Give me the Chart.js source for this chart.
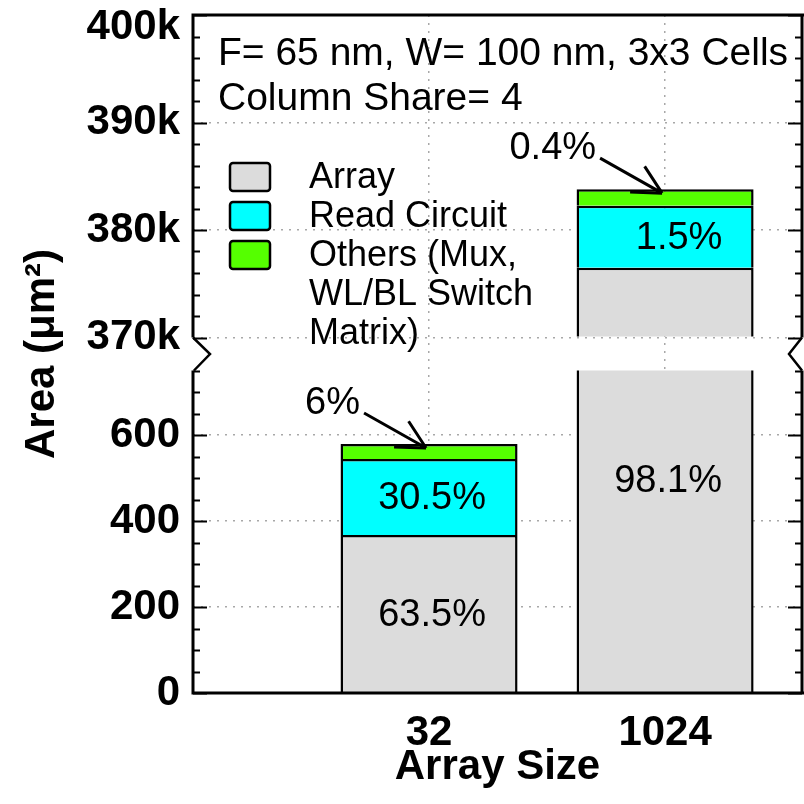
<!DOCTYPE html>
<html>
<head>
<meta charset="utf-8">
<script src="https://cdn.jsdelivr.net/npm/chart.js@4/dist/chart.umd.min.js"></script>
<style>
  html, body { margin: 0; padding: 0; background: #fff; }
  #wrap { width: 804px; height: 804px; }
</style>
</head>
<body>
<div id="wrap"><canvas id="c" width="804" height="804"></canvas></div>
<script>
// ---- data ----
const arraySizes = ['32', '1024'];
const slotPos = [1, 2];
const arrayArea = [367.7, 376500];
const readArea = [176.6, 5760];
const otherArea = [34.7, 1540];
const arrayPct = ['63.5%', '98.1%'];
const readPct = ['30.5%', '1.5%'];
const otherPct = ['6%', '0.4%'];
const yTickValues = [0, 200, 400, 600, 370000, 380000, 390000, 400000];
const yTickLabels = ['0', '200', '400', '600', '370k', '380k', '390k', '400k'];
const seriesNames = ['Array', 'Read Circuit', 'Others (Mux, WL/BL Switch Matrix)'];
const legendLines = [['Array'], ['Read Circuit'], ['Others (Mux,', 'WL/BL Switch', 'Matrix)']];
const noteLines = ['F= 65 nm, W= 100 nm, 3x3 Cells', 'Column Share= 4'];

// ---- styling ----
const FONT = '"Liberation Sans", Arial, Helvetica, sans-serif';
const COLORS = ['#dcdcdc', '#00ffff', '#55ff00'];
const GRID = '#a8a8a8';
const BREAK = { lowMax: 750, highMin: 370000, highMax: 400000, gap: 33 };

// Linear axis with a cut between the low range and the high range
class BrokenLinearScale extends Chart.LinearScale {
  segLen() { return (this.bottom - this.top - BREAK.gap) / 2; }
  getPixelForValue(v) {
    const s = this.segLen();
    if (v <= BREAK.lowMax) return this.bottom - (v / BREAK.lowMax) * s;
    if (v >= BREAK.highMin) return this.top + (BREAK.highMax - v) / (BREAK.highMax - BREAK.highMin) * s;
    return this.bottom - s - (v - BREAK.lowMax) / (BREAK.highMin - BREAK.lowMax) * BREAK.gap;
  }
  getValueForPixel(p) {
    const s = this.segLen();
    if (p >= this.bottom - s) return (this.bottom - p) / s * BREAK.lowMax;
    if (p <= this.top + s) return BREAK.highMax - (p - this.top) / s * (BREAK.highMax - BREAK.highMin);
    return BREAK.lowMax + (this.bottom - s - p) / BREAK.gap * (BREAK.highMin - BREAK.lowMax);
  }
}
BrokenLinearScale.id = 'brokenLinear';
BrokenLinearScale.defaults = Chart.LinearScale.defaults;
Chart.register(BrokenLinearScale);

// minor tick positions on the frame
const minorTicks = [];
for (let v = 50; v <= BREAK.lowMax; v += 50) if (v % 200) minorTicks.push(v);
for (let v = 372000; v < BREAK.highMax; v += 2000) if (v % 10000) minorTicks.push(v);

const insideShiftX = [[3, 3], [3, 14]];

function drawArrow(ctx, tx, ty) {
  const sx = tx - 62, sy = ty - 35;
  const ang = Math.atan2(ty - sy, tx - sx);
  ctx.beginPath();
  ctx.moveTo(sx, sy);
  ctx.lineTo(tx, ty);
  for (const d of [-0.48, 0.48]) {
    const a = ang + Math.PI + d;
    ctx.moveTo(tx, ty);
    ctx.lineTo(tx + 32 * Math.cos(a), ty + 32 * Math.sin(a));
  }
  ctx.stroke();
}

function fixedBox(size, key) {
  return s => {
    s[key] = size;
    s.paddingTop = 0; s.paddingBottom = 0; s.paddingLeft = 0; s.paddingRight = 0;
  };
}

const decor = {
  id: 'decor',
  beforeDraw(chart) {
    const ctx = chart.ctx;
    ctx.save();
    ctx.fillStyle = '#fff';
    ctx.fillRect(0, 0, chart.width, chart.height);
    ctx.restore();
  },
  beforeDatasetsDraw(chart) {
    const ctx = chart.ctx, y = chart.scales.y;
    const gTop = y.getPixelForValue(BREAK.highMin) - 1;
    const gBot = y.getPixelForValue(BREAK.lowMax);
    ctx.save();
    ctx.beginPath();
    ctx.rect(0, 0, chart.width, gTop);
    ctx.rect(0, gBot, chart.width, chart.height - gBot);
    ctx.clip();
  },
  afterDatasetsDraw(chart) {
    const ctx = chart.ctx;
    ctx.restore();
    ctx.save();
    ctx.fillStyle = '#000';
    ctx.strokeStyle = '#000';
    ctx.font = '38px ' + FONT;
    ctx.textBaseline = 'middle';
    ctx.textAlign = 'center';
    [arrayPct, readPct].forEach((labels, di) => {
      chart.getDatasetMeta(di).data.forEach((el, j) => {
        const p = el.getProps(['x', 'y', 'base'], true);
        ctx.fillText(labels[j], p.x + insideShiftX[di][j], (p.y + p.base) / 2 + 2);
      });
    });
    ctx.lineWidth = 3;
    ctx.lineCap = 'butt';
    chart.getDatasetMeta(2).data.forEach((el, j) => {
      const p = el.getProps(['x', 'y', 'base'], true);
      const tx = p.x - 3, ty = p.y + 4;
      drawArrow(ctx, tx, ty);
      ctx.textAlign = 'right';
      ctx.fillText(otherPct[j], tx - 66, ty - 45);
    });
    ctx.restore();
  },
  afterDraw(chart) {
    const ctx = chart.ctx, y = chart.scales.y;
    const {left, right, top, bottom} = chart.chartArea;
    const gTop = y.getPixelForValue(BREAK.highMin);
    const gBot = y.getPixelForValue(BREAK.lowMax);
    ctx.save();
    ctx.strokeStyle = '#000';
    ctx.lineWidth = 3;
    ctx.lineJoin = 'miter';
    // frame with the cut marks on both sides
    ctx.beginPath();
    ctx.moveTo(left, gBot); ctx.lineTo(left, bottom);
    ctx.moveTo(left - 1.5, bottom); ctx.lineTo(chart.width, bottom);
    ctx.moveTo(right, bottom); ctx.lineTo(right, gBot);
    ctx.moveTo(right, gTop); ctx.lineTo(right, top);
    ctx.moveTo(chart.width, top); ctx.lineTo(left - 1.5, top);
    ctx.moveTo(left, top); ctx.lineTo(left, gTop);
    ctx.stroke();
    ctx.lineWidth = 2.5;
    ctx.beginPath();
    ctx.moveTo(left, gTop); ctx.lineTo(left + 17, (gTop + gBot) / 2); ctx.lineTo(left + 1, gBot);
    ctx.moveTo(right, gTop); ctx.lineTo(right - 13, (gTop + gBot) / 2); ctx.lineTo(right, gBot);
    ctx.stroke();
    // inward tick marks
    ctx.lineWidth = 2;
    ctx.beginPath();
    const mark = (v, len) => {
      const py = Math.round(y.getPixelForValue(v)) + 0.5;
      ctx.moveTo(left, py); ctx.lineTo(left + len, py);
      ctx.moveTo(right, py); ctx.lineTo(right - len, py);
    };
    yTickValues.forEach(v => mark(v, 14));
    minorTicks.forEach(v => mark(v, 7));
    ctx.stroke();

    // legend
    const boxX = 230, boxW = 40, boxH = 28, textX = 309, rowH = 39, firstBox = 163;
    ctx.font = '36px ' + FONT;
    ctx.fillStyle = '#000';
    ctx.textAlign = 'left';
    ctx.textBaseline = 'middle';
    let row = 0;
    chart.data.datasets.forEach((ds, i) => {
      const by = firstBox + row * rowH;
      ctx.beginPath();
      if (ctx.roundRect) ctx.roundRect(boxX, by, boxW, boxH, 3); else ctx.rect(boxX, by, boxW, boxH);
      ctx.fillStyle = ds.backgroundColor;
      ctx.fill();
      ctx.lineWidth = 2.5;
      ctx.strokeStyle = '#000';
      ctx.stroke();
      ctx.fillStyle = '#000';
      legendLines[i].forEach((line, k) => {
        ctx.fillText(line, textX, by + boxH / 2 + 1 + k * rowH);
      });
      row += legendLines[i].length;
    });

    // setup note
    ctx.font = '39px ' + FONT;
    ctx.textBaseline = 'alphabetic';
    noteLines.forEach((line, k) => ctx.fillText(line, 218, 65 + k * 45));
    ctx.restore();
  }
};

const tickFont = { family: FONT, size: 42, weight: 'bold', lineHeight: 0.6 };
const titleFont = { family: FONT, size: 42, weight: 'bold' };

new Chart(document.getElementById('c'), {
  type: 'bar',
  data: {
    datasets: [
      { label: seriesNames[0], data: arrayArea.map((v, i) => ({ x: slotPos[i], y: v })), backgroundColor: COLORS[0] },
      { label: seriesNames[1], data: readArea.map((v, i) => ({ x: slotPos[i], y: v })), backgroundColor: COLORS[1] },
      { label: seriesNames[2], data: otherArea.map((v, i) => ({ x: slotPos[i], y: v })), backgroundColor: COLORS[2] }
    ].map(ds => Object.assign(ds, {
      borderColor: '#000', borderWidth: 2.5, categoryPercentage: 0.75, barPercentage: 1
    }))
  },
  options: {
    responsive: false,
    devicePixelRatio: 1,
    animation: false,
    events: [],
    layout: { padding: { top: 15, right: 2, bottom: 0, left: 0 } },
    plugins: { legend: { display: false }, tooltip: { enabled: false } },
    scales: {
      x: {
        type: 'linear', min: 0, max: 2.58, offset: false, stacked: true,
        afterBuildTicks: s => { s.ticks = slotPos.map(v => ({ value: v })); },
        afterFit: fixedBox(111, 'height'),
        ticks: {
          callback: (v, i) => arraySizes[i], font: { family: FONT, size: 42, weight: 'bold' },
          color: '#000', padding: 15, autoSkip: false, maxRotation: 0
        },
        grid: { color: GRID, lineWidth: 1.5, drawTicks: false, offset: false },
        border: { display: false, dash: [2, 6] },
        title: { display: true, text: 'Array Size', font: titleFont, color: '#000', padding: { top: 0, bottom: 11 } }
      },
      y: {
        type: 'brokenLinear', min: 0, max: BREAK.highMax, stacked: true,
        afterBuildTicks: s => { s.ticks = yTickValues.map(v => ({ value: v })); },
        afterFit: fixedBox(193, 'width'),
        ticks: {
          callback: (v, i) => (v === BREAK.highMax ? ['', yTickLabels[i]] : yTickLabels[i]),
          font: tickFont, color: '#000', padding: 13, autoSkip: false
        },
        grid: { color: GRID, lineWidth: 1.5, drawTicks: false },
        border: { display: false, dash: [2, 6] },
        title: { display: true, text: 'Area (μm²)', font: titleFont, color: '#000', padding: { top: 17, bottom: 0 } }
      }
    }
  },
  plugins: [decor]
});
</script>
</body>
</html>
